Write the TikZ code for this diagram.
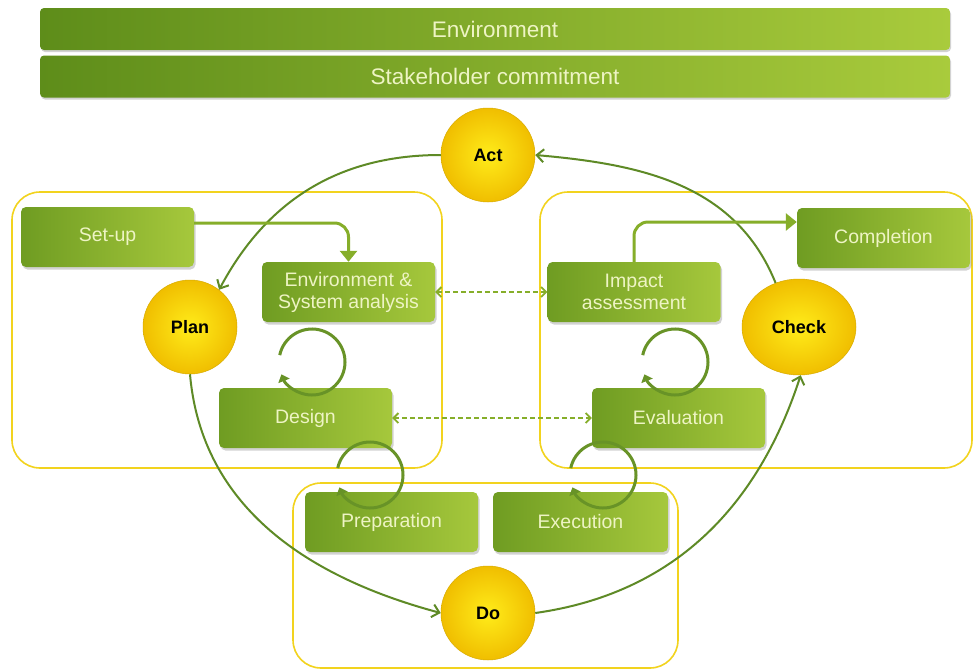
\documentclass[tikz,border=0pt]{standalone}
\usepackage{fontspec}
\setmainfont{Liberation Sans}
\usetikzlibrary{shadows,arrows.meta,shapes.geometric}
\definecolor{gdark}{HTML}{6F9C22}
\definecolor{glight}{HTML}{A6C83C}
\definecolor{bardark}{HTML}{5E8D1A}
\definecolor{barlight}{HTML}{A9CB3C}
\definecolor{txt}{HTML}{EEF4C4}
\definecolor{ylw}{HTML}{F2D31E}
\definecolor{ballin}{HTML}{FFEC1A}
\definecolor{ballout}{HTML}{F0BE00}
\definecolor{conn}{HTML}{5E8A26}
\definecolor{lconn}{HTML}{86AE2A}
\begin{document}
\begin{tikzpicture}[x=1pt,y=1pt,
  box/.style={rounded corners=5pt, left color=gdark, right color=glight,
    minimum width=173pt, minimum height=60pt, text=txt, align=center,
    font=\fontsize{19.5}{22}\selectfont,
    drop shadow={opacity=0.35,shadow xshift=1.5pt,shadow yshift=-2.5pt}},
  bar/.style={rounded corners=4pt, left color=bardark, right color=barlight,
    minimum width=910pt, minimum height=42pt, text=txt,
    font=\fontsize{22.5}{24}\selectfont,
    drop shadow={opacity=0.35,shadow xshift=1pt,shadow yshift=-2pt}},
  ball/.style={circle, inner color=ballin, outer color=ballout, draw=ballout!90!black,
    line width=0.5pt, minimum size=94pt, text=black,
    font=\fontsize{18}{20}\selectfont\bfseries},
  region/.style={draw=ylw, line width=1.6pt, rounded corners=28pt},
  cyc/.style={draw=conn, line width=2pt, -{Straight Barb[length=7pt,width=13pt]}},
  dasharr/.style={draw=lconn, line width=1.8pt, dash pattern=on 5pt off 3pt,
    {Straight Barb[length=5pt,width=10pt]}-{Straight Barb[length=5pt,width=10pt]}},
  flow/.style={draw=lconn, line width=3pt, rounded corners=14pt,
    -{Triangle[length=11pt,width=17pt]}},
  looparr/.style={draw=conn!75!lconn, line width=3pt, -{Triangle[length=7pt,width=12pt]}}
]
\useasboundingbox (0,0) rectangle (975,-670);
\fill[white] (0,0) rectangle (975,-670);

% regions
\draw[region] (12,-192) rectangle (442,-468);
\draw[region] (540,-192) rectangle (972,-468);
\draw[region] (293,-483) rectangle (678,-668);

% bars
\node[bar] (env) at (495,-29) {Environment};
\node[bar] (stake) at (495,-76.5) {Stakeholder commitment};

% circles
\node[ball] (act) at (488,-155) {Act};
\node[ball] (plan) at (190,-327) {Plan};
\node[ball] (do) at (488,-613) {Do};
\node[ball, ellipse, minimum width=114pt, minimum height=96pt] (check) at (799,-327) {Check};

% big cycle
\draw[cyc] (act.west) to[out=180,in=62] (plan.52);
\draw[cyc] (plan.south) to[out=-85,in=165] (do.west);
\draw[cyc] (do.east) to[out=8,in=-108] (check.-88);
\draw[cyc] (check.118) to[out=112,in=-5] (act.east);

% boxes
\node[box] (setup) at (107.5,-237) {Set-up};
\node[box] (esa) at (348.5,-292) {Environment \&\\System analysis};
\node[box] (design) at (305.5,-418) {Design};
\node[box] (impact) at (634,-292) {Impact\\assessment};
\node[box] (compl) at (883.5,-238) {Completion};
\node[box] (eval) at (678.5,-418) {Evaluation};
\node[box] (prep) at (391.5,-522) {Preparation};
\node[box, minimum width=175pt] (exec) at (580.5,-522) {Execution};

% flows
\draw[flow] ([yshift=14pt]setup.east) -| (esa.north);
\draw[flow] (impact.north) |- ([yshift=16pt]compl.west);

% dashed
\draw[dasharr] (esa.east) -- (impact.west);
\draw[dasharr] (design.east) -- (eval.west);

% loops
\coordinate (l1) at (312,-362);
\coordinate (l2) at (675,-362);
\coordinate (l3) at (370,-475);
\coordinate (l4) at (603,-475);
\foreach \c in {l1,l2,l3,l4}
  \draw[looparr] (\c) ++(168:33) arc[start angle=168, end angle=-158, radius=33];
\end{tikzpicture}
\end{document}
